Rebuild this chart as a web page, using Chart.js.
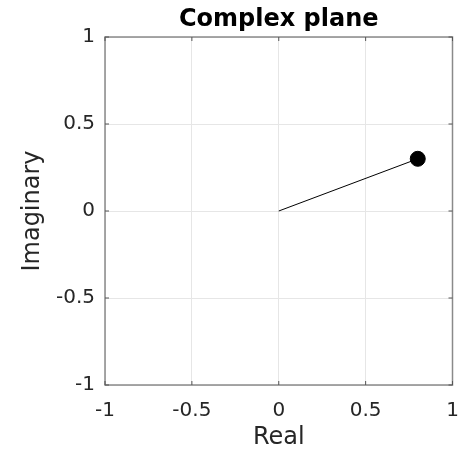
<!DOCTYPE html>
<html lang="en">
<head>
  <meta charset="UTF-8">
  <title>Complex plane</title>
  <script src="https://cdn.jsdelivr.net/npm/chart.js"></script>
  <style>
    html, body { margin: 0; padding: 0; background: #ffffff; }
    canvas { display: block; }
  </style>
</head>
<body>
  <canvas id="plane" width="461" height="452"></canvas>
  <script>
    // the number shown: a line from the origin out to z = 0.8 + 0.3i
    const realParts = [0, 0.8];
    const imagParts = [0, 0.3];
    const pointSizes = [0, 7.5];
    const tickValues = [-1, -0.5, 0, 0.5, 1];

    const FONT = "'DejaVu Sans', sans-serif";

    // box round the plot and small inward ticks on every side
    const boxPlugin = {
      id: 'box',
      afterDatasetsDraw(chart) {
        const { ctx, chartArea: a, scales } = chart;
        ctx.save();
        ctx.strokeStyle = '#8a8a8a';
        ctx.lineWidth = 1.5;
        ctx.strokeRect(a.left, a.top, a.right - a.left, a.bottom - a.top);
        ctx.lineWidth = 1;
        ctx.strokeStyle = '#555555';
        ctx.beginPath();
        tickValues.forEach(v => {
          const px = scales.x.getPixelForValue(v);
          const py = scales.y.getPixelForValue(v);
          ctx.moveTo(px, a.bottom); ctx.lineTo(px, a.bottom - 4);
          ctx.moveTo(px, a.top); ctx.lineTo(px, a.top + 4);
          ctx.moveTo(a.left, py); ctx.lineTo(a.left + 4, py);
          ctx.moveTo(a.right, py); ctx.lineTo(a.right - 4, py);
        });
        ctx.stroke();
        ctx.restore();
      }
    };

    new Chart(document.getElementById('plane'), {
      type: 'scatter',
      data: {
        datasets: [{
          data: realParts.map((x, i) => ({ x, y: imagParts[i] })),
          showLine: true,
          borderColor: '#000000',
          borderWidth: 1,
          backgroundColor: '#000000',
          pointRadius: pointSizes,
          pointHoverRadius: pointSizes
        }]
      },
      options: {
        responsive: false,
        animation: false,
        layout: { padding: { top: 0, right: 8, bottom: 0, left: 0 } },
        plugins: {
          legend: { display: false },
          tooltip: { enabled: false },
          title: {
            display: true,
            text: 'Complex plane',
            fullSize: false,
            color: '#000000',
            font: { family: FONT, size: 24, weight: 'bold' },
            padding: { top: 5, bottom: 3.2 }
          }
        },
        scales: {
          x: {
            type: 'linear',
            min: -1, max: 1,
            afterBuildTicks: s => { s.ticks = tickValues.map(v => ({ value: v })); },
            afterFit: s => { s.height = 67; s.paddingLeft = 0; s.paddingRight = 0; },
            grid: { color: '#e6e6e6', drawTicks: false },
            border: { display: false },
            ticks: {
              padding: 14,
              color: '#262626',
              font: { family: FONT, size: 20 },
              maxRotation: 0,
              callback: v => String(v)
            },
            title: {
              display: true,
              text: 'Real',
              color: '#262626',
              font: { family: FONT, size: 24 },
              padding: { top: 0, bottom: 0 }
            }
          },
          y: {
            type: 'linear',
            min: -1, max: 1,
            afterBuildTicks: s => { s.ticks = tickValues.map(v => ({ value: v })); },
            afterFit: s => { s.width = 105; s.paddingTop = 0; s.paddingBottom = 0; },
            grid: { color: '#e6e6e6', drawTicks: false },
            border: { display: false },
            ticks: {
              padding: 10,
              color: '#262626',
              font: { family: FONT, size: 20 },
              callback: v => String(v)
            },
            title: {
              display: true,
              text: 'Imaginary',
              color: '#262626',
              font: { family: FONT, size: 24 },
              padding: { top: 18, bottom: 0 }
            }
          }
        }
      },
      plugins: [boxPlugin]
    });
  </script>
</body>
</html>
